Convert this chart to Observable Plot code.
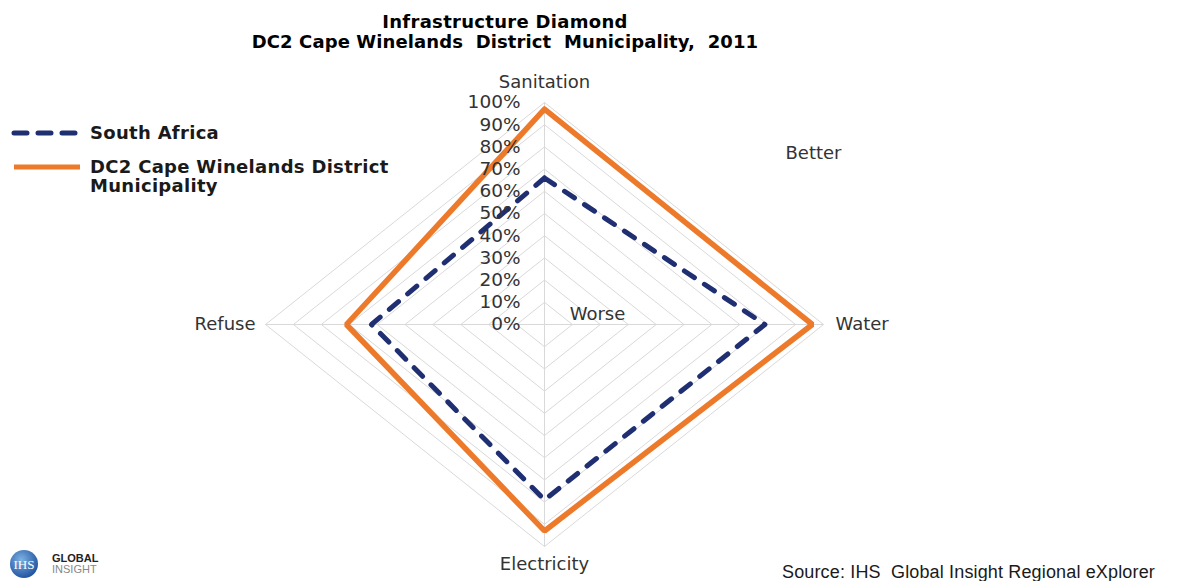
<!DOCTYPE html>
<html><head><meta charset="utf-8">
<script src="https://cdn.jsdelivr.net/npm/d3@7"></script>
<script src="https://cdn.jsdelivr.net/npm/@observablehq/plot@0.6"></script>
<style>
body{margin:0;background:#fff;}
#wrap{position:relative;width:1187px;height:581px;overflow:hidden;font-family:"DejaVu Sans",Verdana,sans-serif;}
#chart{position:absolute;left:0;top:0;}
#title{position:absolute;left:0;top:12px;width:1010px;text-align:center;font-weight:bold;font-size:18px;letter-spacing:0.3px;line-height:20px;color:#000;white-space:pre;}
#title div + div{letter-spacing:0.1px;}
#legend{position:absolute;left:10px;top:123px;font-weight:bold;font-size:18px;letter-spacing:0.3px;color:#1a1a1a;}
.item{display:flex;align-items:flex-start;margin-bottom:15px;}
.item svg{flex:none;margin-right:8px;}
.item span{line-height:19px;}
#source{position:absolute;left:782px;top:562px;font-family:"Liberation Sans",Arial,sans-serif;font-size:18px;letter-spacing:0.15px;color:#1a1a1a;white-space:pre;}
#logo{position:absolute;left:6px;top:548px;}
</style></head>
<body>
<div id="wrap">
  <div id="chart"></div>
  <div id="title"></div>
  <div id="legend"></div>
  <div id="source"></div>
  <div id="logo">
    <svg width="120" height="32">
      <defs><radialGradient id="g" cx="40%" cy="35%" r="70%"><stop offset="0" stop-color="#7db2e3"/><stop offset="1" stop-color="#1c4f9c"/></radialGradient></defs>
      <circle cx="18" cy="16" r="14" fill="url(#g)"/>
      <text x="18" y="21" text-anchor="middle" fill="#fff" font-family="Liberation Serif" font-size="13">IHS</text>
      <text x="46" y="14" font-family="Liberation Sans" font-weight="bold" font-size="11" fill="#222">GLOBAL</text>
      <text x="46" y="25" font-family="Liberation Sans" font-size="11" fill="#888">INSIGHT</text>
    </svg>
  </div>
</div>
<script>
const titleLines = ["Infrastructure Diamond", "DC2 Cape Winelands  District  Municipality,  2011"];
const categories = ["Sanitation", "Water", "Electricity", "Refuse"];
const seriesNames = ["South Africa", "DC2 Cape Winelands District Municipality"];
const southAfrica = [0.66, 0.79, 0.79, 0.62];
const capeWinelands = [0.97, 0.96, 0.93, 0.71];
const tickValues = [0, 0.1, 0.2, 0.3, 0.4, 0.5, 0.6, 0.7, 0.8, 0.9, 1.0];
const tickLabels = ["0%", "10%", "20%", "30%", "40%", "50%", "60%", "70%", "80%", "90%", "100%"];
const annotations = ["Better", "Worse"];
const sourceText = "Source: IHS  Global Insight Regional eXplorer";

const navy = "#1f2f72", orange = "#ec7a2a";
const angle = i => i * Math.PI / 2;
const px = (r, i) => r * Math.sin(angle(i));
const py = (r, i) => r * Math.cos(angle(i));

function polygon(values, name) {
  const pts = values.map((v, i) => ({x: px(v, i), y: py(v, i), series: name}));
  pts.push({...pts[0]});
  return pts;
}
const rings = tickValues.slice(1).flatMap(level =>
  polygon(categories.map(() => level), level));
const spokes = categories.map((c, i) => ({x: px(1, i), y: py(1, i)}));
const saData = polygon(southAfrica, seriesNames[0]);
const cwData = polygon(capeWinelands, seriesNames[1]);

const labelOffsets = [
  {dx: 0, dy: -20, textAnchor: "middle"},
  {dx: 12, dy: 0, textAnchor: "start"},
  {dx: 0, dy: 18, textAnchor: "middle"},
  {dx: -10, dy: 0, textAnchor: "end"}
];

const plot = Plot.plot({
  width: 1187, height: 581,
  marginLeft: 265, marginRight: 364, marginTop: 102, marginBottom: 35,
  x: {domain: [-1, 1], axis: null},
  y: {domain: [-1, 1], axis: null},
  style: {fontFamily: "'DejaVu Sans', Verdana, sans-serif", background: "transparent", color: "#404040"},
  marks: [
    Plot.line(rings, {x: "x", y: "y", z: "series", stroke: "#d9d9d9", strokeWidth: 1}),
    Plot.link(spokes, {x1: () => 0, y1: () => 0, x2: "x", y2: "y", stroke: "#d9d9d9", strokeWidth: 1}),
    Plot.line(cwData, {x: "x", y: "y", stroke: orange, strokeWidth: 5.5, strokeLinejoin: "miter"}),
    Plot.line(saData, {x: "x", y: "y", stroke: navy, strokeWidth: 5, strokeDasharray: "12,12", strokeLinecap: "round", strokeLinejoin: "round"}),
    Plot.text(tickValues, {x: () => 0, y: d => d, text: (d, i) => tickLabels[i], textAnchor: "end", dx: -24, fontSize: 18.5, fill: "#333"}),
    ...categories.map((c, i) => Plot.text([c], {x: () => px(1, i), y: () => py(1, i), text: d => d, fontSize: 18, fill: "#333", ...labelOffsets[i]})),
    Plot.text([annotations[0]], {frameAnchor: "top-right", text: d => d, textAnchor: "middle", dx: -10, dy: 44, fontSize: 18, fill: "#333"}),
    Plot.text([annotations[1]], {x: () => 0, y: () => 0, text: d => d, textAnchor: "middle", dx: 53, dy: -10, fontSize: 18, fill: "#333"})
  ]
});
document.getElementById("chart").appendChild(plot);

document.getElementById("title").innerHTML = titleLines.map(t => `<div>${t}</div>`).join("");
document.getElementById("source").textContent = sourceText;

const legend = document.getElementById("legend");
const legendStyles = [
  {stroke: navy, dash: "13,11", cap: "round"},
  {stroke: orange, dash: null, cap: "butt"}
];
seriesNames.forEach((name, i) => {
  const s = legendStyles[i];
  const parts = i === 1 ? ["DC2 Cape Winelands District", "Municipality"] : [name];
  const div = document.createElement("div");
  div.className = "item";
  div.innerHTML = `<svg width="72" height="19"><line x1="4" x2="70" y1="10" y2="10" stroke="${s.stroke}" stroke-width="5" ${s.dash ? `stroke-dasharray="${s.dash}"` : ""} stroke-linecap="${s.cap}"/></svg><span>${parts.join("<br>")}</span>`;
  legend.appendChild(div);
});
</script>
</body></html>
